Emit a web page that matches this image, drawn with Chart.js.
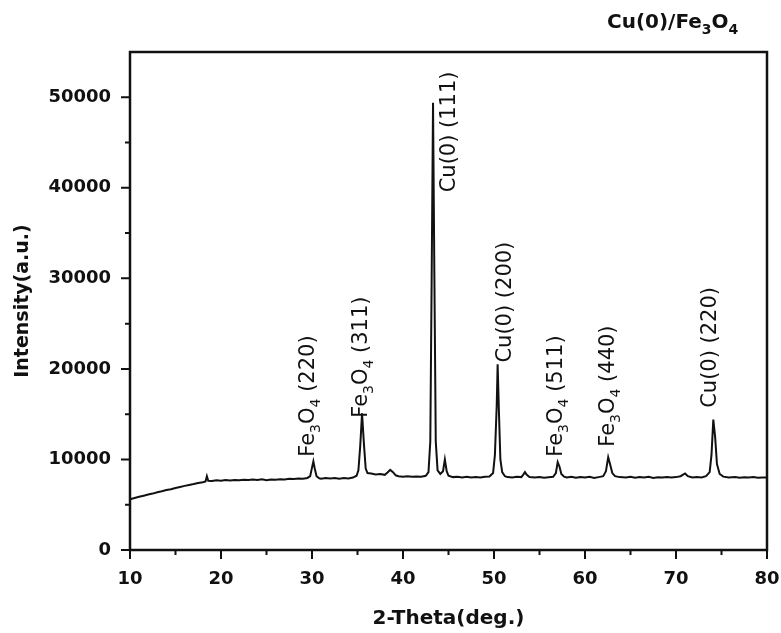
<!DOCTYPE html>
<html>
<head>
<meta charset="utf-8">
<script src="https://cdn.jsdelivr.net/npm/chart.js@4.4.0/dist/chart.umd.min.js"></script>
<style>
  body { margin: 0; background: #fff; }
  canvas { display: block; }
</style>
</head>
<body>
<canvas id="xrdChart" width="781" height="633"></canvas>
<script>
// XRD pattern (2-theta in degrees, intensity in a.u.)
const twoTheta = [
  10.0, 10.5, 11.0, 11.5, 12.0, 12.5, 13.0, 13.5, 14.0, 14.5, 15.0, 15.5, 16.0, 16.5, 17.0, 17.5,
  18.0, 18.3, 18.45, 18.6, 19.0, 19.5, 20.0, 20.5, 21.0, 21.5, 22.0, 22.5, 23.0, 23.5, 24.0, 24.5,
  25.0, 25.5, 26.0, 26.5, 27.0, 27.5, 28.0, 28.5, 29.0, 29.5, 29.8, 30.0, 30.15, 30.3, 30.5, 30.8,
  31.0, 31.5, 32.0, 32.5, 33.0, 33.5, 34.0, 34.5, 34.9, 35.1, 35.3, 35.5, 35.7, 35.9, 36.1, 36.5,
  37.0, 37.5, 38.0, 38.3, 38.6, 38.9, 39.2, 39.5, 40.0, 40.5, 41.0, 41.5, 42.0, 42.5, 42.8, 43.0,
  43.15, 43.3, 43.45, 43.6, 43.8, 44.1, 44.4, 44.6, 44.8, 45.0, 45.5, 46.0, 46.5, 47.0, 47.5, 48.0,
  48.5, 49.0, 49.5, 49.9, 50.1, 50.3, 50.4, 50.55, 50.7, 50.9, 51.2, 51.5, 52.0, 52.5, 53.0, 53.2,
  53.4, 53.6, 53.9, 54.5, 55.0, 55.5, 56.0, 56.5, 56.8, 57.0, 57.2, 57.4, 57.7, 58.0, 58.5, 59.0,
  59.5, 60.0, 60.5, 61.0, 61.5, 62.0, 62.3, 62.55, 62.8, 63.0, 63.3, 63.8, 64.5, 65.0, 65.5, 66.0,
  66.5, 67.0, 67.5, 68.0, 68.5, 69.0, 69.5, 70.0, 70.5, 71.0, 71.3, 71.8, 72.3, 72.8, 73.3, 73.7,
  73.9, 74.1, 74.3, 74.5, 74.8, 75.2, 75.8, 76.5, 77.0, 77.5, 78.0, 78.5, 79.0, 79.5, 80.0
];
const intensity = [
  5600, 5750, 5880, 6000, 6120, 6230, 6380, 6480, 6620, 6720, 6850, 6960, 7080, 7180, 7280, 7400,
  7480, 7560, 8150, 7650, 7620, 7700, 7660, 7720, 7680, 7740, 7700, 7760, 7720, 7780, 7740, 7800,
  7700, 7780, 7760, 7820, 7800, 7860, 7840, 7900, 7880, 7960, 8150, 9100, 9780, 9000, 8150, 7920,
  7880, 7950, 7900, 7960, 7880, 7940, 7900, 8000, 8200, 8800, 11500, 15100, 11800, 9000, 8500, 8450,
  8350, 8400, 8300, 8550, 8850, 8600, 8250, 8150, 8100, 8150, 8080, 8120, 8100, 8200, 8600, 12000,
  30000, 49400, 30000, 12000, 8800, 8400, 8700, 10000, 8700, 8200, 8050, 8100, 8020, 8080, 8000, 8060,
  8020, 8080, 8120, 8500, 10500, 16000, 20500, 15000, 10000, 8600, 8150, 8050, 8000, 8080, 8050, 8300,
  8600, 8300, 8050, 8000, 8060, 7980, 8040, 8080, 8500, 9700, 9200, 8400, 8100, 8020, 8080, 7980,
  8060, 8020, 8080, 7960, 8050, 8150, 8700, 10250, 9300, 8500, 8150, 8050, 8000, 8080, 7980, 8050,
  8000, 8080, 7960, 8040, 8000, 8070, 8000, 8050, 8150, 8450, 8150, 8000, 8060, 8020, 8150, 8600,
  10500, 14400, 12500, 9500, 8400, 8100, 8000, 8060, 7980, 8040, 8000, 8050, 7980, 8020, 8000
];

const xTicks = [10, 20, 30, 40, 50, 60, 70, 80];
const xMinorTicks = [15, 25, 35, 45, 55, 65, 75];
const yTicks = [0, 10000, 20000, 30000, 40000, 50000];
const yMinorTicks = [5000, 15000, 25000, 35000, 45000];

// peak assignments; "_n" marks a subscript digit
const peakLabels = ['Fe_3O_4 (220)', 'Fe_3O_4 (311)', 'Cu(0) (111)', 'Cu(0) (200)', 'Fe_3O_4 (511)', 'Fe_3O_4 (440)', 'Cu(0) (220)'];
const peakLabelX = [30.2, 36.0, 45.7, 51.85, 57.45, 63.2, 74.4];
const peakLabelY = [10300, 14600, 39500, 20700, 10300, 11400, 15700];

const sampleName = 'Cu(0)/Fe_3O_4';

const FONT = '"DejaVu Sans", sans-serif';
const INK = '#111';

function drawRich(ctx, text, size, weight) {
  let x = 0;
  text.split(/(_\d)/).filter(p => p).forEach(p => {
    const sub = p[0] === '_';
    const s = sub ? p.slice(1) : p;
    ctx.font = `${weight} ${sub ? Math.round(size * 0.68) : size}px ${FONT}`;
    ctx.fillText(s, x, sub ? size * 0.3 : 0);
    x += ctx.measureText(s).width;
  });
}

const decorations = {
  id: 'decorations',
  afterDraw(chart) {
    const { ctx, chartArea: a, scales: { x, y } } = chart;
    ctx.save();
    ctx.strokeStyle = INK;
    ctx.fillStyle = INK;

    // frame
    ctx.lineWidth = 2.5;
    ctx.strokeRect(a.left, a.top, a.right - a.left, a.bottom - a.top);

    // tick marks, outward on bottom and left only
    ctx.lineWidth = 2;
    ctx.beginPath();
    xTicks.forEach(v => { const p = x.getPixelForValue(v); ctx.moveTo(p, a.bottom); ctx.lineTo(p, a.bottom + 9); });
    xMinorTicks.forEach(v => { const p = x.getPixelForValue(v); ctx.moveTo(p, a.bottom); ctx.lineTo(p, a.bottom + 5); });
    yTicks.forEach(v => { const p = y.getPixelForValue(v); ctx.moveTo(a.left, p); ctx.lineTo(a.left - 9, p); });
    yMinorTicks.forEach(v => { const p = y.getPixelForValue(v); ctx.moveTo(a.left, p); ctx.lineTo(a.left - 5, p); });
    ctx.stroke();

    // peak labels, rotated, reading bottom to top
    ctx.textAlign = 'left';
    ctx.textBaseline = 'alphabetic';
    peakLabels.forEach((txt, i) => {
      ctx.save();
      ctx.translate(x.getPixelForValue(peakLabelX[i]), y.getPixelForValue(peakLabelY[i]));
      ctx.rotate(-Math.PI / 2);
      drawRich(ctx, txt, 21, 'normal');
      ctx.restore();
    });

    // sample name, top right
    ctx.save();
    ctx.translate(607, 28);
    drawRich(ctx, sampleName, 20, 'bold');
    ctx.restore();

    ctx.restore();
  }
};

Chart.defaults.font.family = FONT;
Chart.defaults.color = INK;

new Chart(document.getElementById('xrdChart'), {
  type: 'line',
  data: {
    datasets: [{
      data: twoTheta.map((t, i) => ({ x: t, y: intensity[i] })),
      borderColor: INK,
      borderWidth: 2,
      pointRadius: 0,
      tension: 0,
      fill: false
    }]
  },
  options: {
    responsive: false,
    animation: false,
    layout: { padding: { top: 52, right: 14, left: 0, bottom: 0 } },
    plugins: { legend: { display: false }, tooltip: { enabled: false } },
    scales: {
      x: {
        type: 'linear',
        min: 10,
        max: 80,
        afterFit: s => { s.height = 83; s.paddingLeft = 0; s.paddingRight = 0; },
        afterBuildTicks: s => { s.ticks = xTicks.map(v => ({ value: v })); },
        grid: { display: false, drawTicks: false },
        border: { display: false },
        ticks: { padding: 19, font: { size: 18, weight: 'bold' }, callback: v => String(v) },
        title: { display: true, text: '2-Theta(deg.)', font: { size: 20, weight: 'bold' }, padding: { top: 0, bottom: 2 } }
      },
      y: {
        min: 0,
        max: 55000,
        afterFit: s => { s.width = 130; s.paddingTop = 0; s.paddingBottom = 0; },
        afterBuildTicks: s => { s.ticks = yTicks.map(v => ({ value: v })); },
        grid: { display: false, drawTicks: false },
        border: { display: false },
        ticks: { padding: 19, font: { size: 18, weight: 'bold' }, callback: v => String(v) },
        title: { display: true, text: 'Intensity(a.u.)', font: { size: 19, weight: 'bold' }, padding: { top: 12, bottom: 0 } }
      }
    }
  },
  plugins: [decorations]
});
</script>
</body>
</html>
